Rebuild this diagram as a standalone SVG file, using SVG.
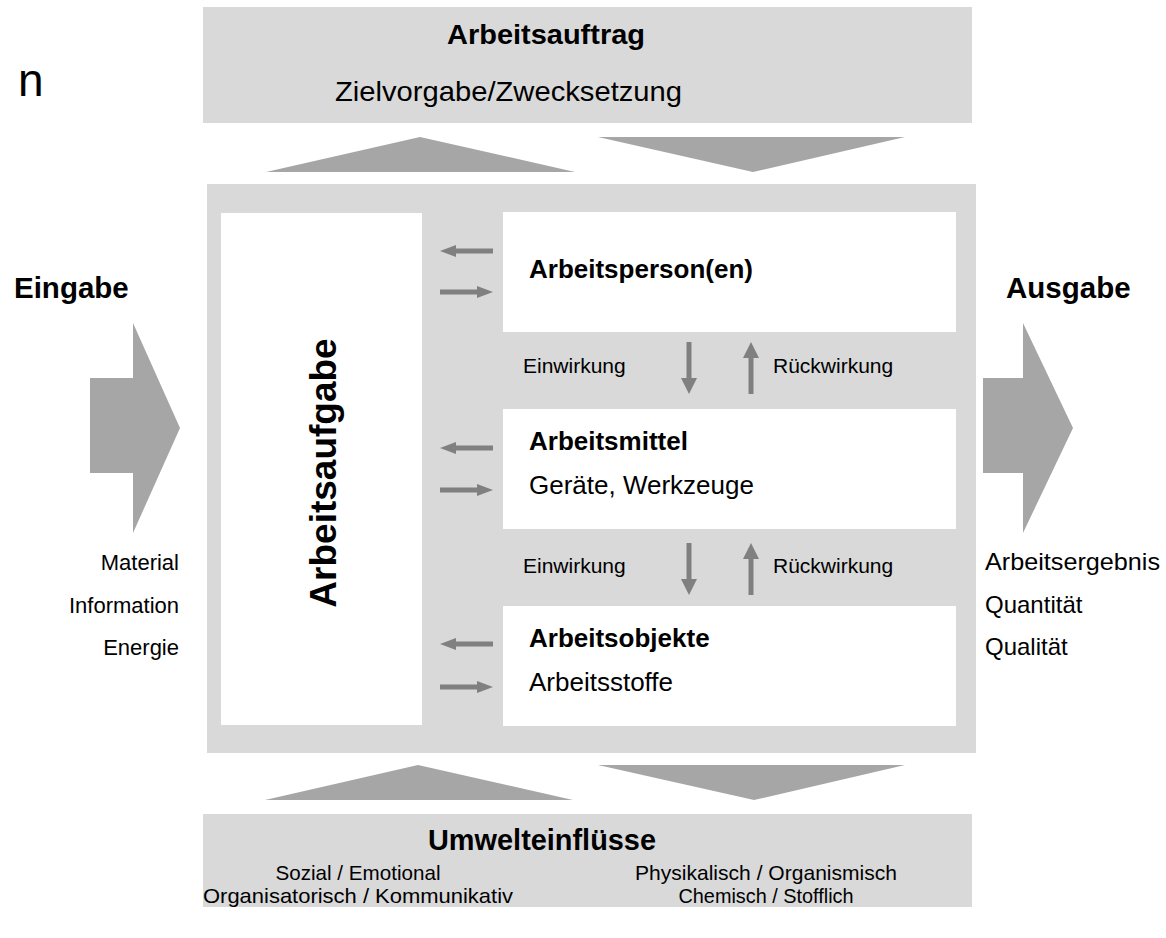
<svg xmlns="http://www.w3.org/2000/svg" width="1166" height="938" viewBox="0 0 1166 938">
  <style>
    .bg { fill: #d9d9d9; }
    .wh { fill: #ffffff; }
    .big { fill: #a6a6a6; }
    .t { font-family: "Liberation Sans", Arial, sans-serif; fill: #000000; }
    .b { font-weight: bold; }
    .sm { stroke: #808080; stroke-width: 5; fill: none; }
    .hd { fill: #808080; }
  </style>
  <defs>
    <g id="arrL">
      <line class="sm" x1="453" y1="0" x2="493" y2="0"/>
      <polygon class="hd" points="440,0 456,-6 456,6"/>
    </g>
    <g id="arrR">
      <line class="sm" x1="440" y1="0" x2="480" y2="0"/>
      <polygon class="hd" points="493,0 477,-6 477,6"/>
    </g>
    <g id="arrD">
      <line class="sm" x1="0" y1="0" x2="0" y2="38"/>
      <polygon class="hd" points="0,52 -8,36 8,36"/>
    </g>
    <g id="arrU">
      <line class="sm" x1="0" y1="14" x2="0" y2="52"/>
      <polygon class="hd" points="0,0 -8,16 8,16"/>
    </g>
  </defs>

  <rect width="1166" height="938" fill="#ffffff"/>

  <text class="t" x="18" y="96" font-size="46">n</text>

  <g id="arbeitsauftrag">
    <rect class="bg" x="203" y="7" width="769" height="116"/>
    <text class="t b" x="447" y="44" font-size="28" textLength="198" lengthAdjust="spacingAndGlyphs">Arbeitsauftrag</text>
    <text class="t" x="335" y="101" font-size="28" textLength="347" lengthAdjust="spacingAndGlyphs">Zielvorgabe/Zwecksetzung</text>
  </g>

  <g id="arbeitssystem">
    <rect class="bg" x="207" y="184" width="769" height="569"/>
  </g>

  <g id="arbeitsaufgabe">
    <rect class="wh" x="221" y="213" width="201" height="512"/>
    <text class="t b" transform="translate(336,473) rotate(-90)" text-anchor="middle" font-size="37">Arbeitsaufgabe</text>
  </g>

  <g id="arbeitsperson">
    <rect class="wh" x="503" y="212" width="453" height="120"/>
    <text class="t b" x="529" y="278" font-size="26">Arbeitsperson(en)</text>
  </g>

  <g id="arbeitsmittel">
    <rect class="wh" x="503" y="409" width="453" height="120"/>
    <text class="t b" x="529" y="450" font-size="26">Arbeitsmittel</text>
    <text class="t" x="529" y="494" font-size="26">Geräte, Werkzeuge</text>
  </g>

  <g id="arbeitsobjekte">
    <rect class="wh" x="503" y="606" width="453" height="120"/>
    <text class="t b" x="529" y="647" font-size="26">Arbeitsobjekte</text>
    <text class="t" x="529" y="691" font-size="26">Arbeitsstoffe</text>
  </g>

  <g id="eingabe">
    <text class="t b" x="14" y="298" font-size="29.5">Eingabe</text>
    <polygon class="big" points="90,378 133,378 133,323 180,428 133,533 133,473 90,473"/>
    <text class="t" x="179" y="570" font-size="22" text-anchor="end">Material</text>
    <text class="t" x="179" y="613" font-size="22" text-anchor="end">Information</text>
    <text class="t" x="179" y="655" font-size="22" text-anchor="end">Energie</text>
  </g>

  <g id="ausgabe">
    <text class="t b" x="1006" y="298" font-size="29.5">Ausgabe</text>
    <polygon class="big" points="983,378 1023,378 1023,323 1073,428 1023,533 1023,473 983,473"/>
    <text class="t" x="985" y="570" font-size="24" textLength="175" lengthAdjust="spacingAndGlyphs">Arbeitsergebnis</text>
    <text class="t" x="985" y="613" font-size="24">Quantität</text>
    <text class="t" x="985" y="655" font-size="24">Qualität</text>
  </g>

  <g id="umwelteinfluesse">
    <rect class="bg" x="203" y="814" width="769" height="93"/>
    <text class="t b" x="542" y="850" font-size="29" text-anchor="middle" textLength="228" lengthAdjust="spacingAndGlyphs">Umwelteinflüsse</text>
    <text class="t" x="358" y="880" font-size="21" text-anchor="middle" textLength="165" lengthAdjust="spacingAndGlyphs">Sozial / Emotional</text>
    <text class="t" x="358" y="903" font-size="21" text-anchor="middle" textLength="310" lengthAdjust="spacingAndGlyphs">Organisatorisch / Kommunikativ</text>
    <text class="t" x="766" y="880" font-size="21" text-anchor="middle" textLength="262" lengthAdjust="spacingAndGlyphs">Physikalisch / Organismisch</text>
    <text class="t" x="766" y="903" font-size="21" text-anchor="middle" textLength="175" lengthAdjust="spacingAndGlyphs">Chemisch / Stofflich</text>
  </g>

  <g id="connectors">
    <polygon class="big" points="266,172 575,172 420,137"/>
    <polygon class="big" points="598,137 905,137 753,172"/>
    <polygon class="big" points="265,800 573,800 418,765"/>
    <polygon class="big" points="598,765 905,765 754,800"/>

    <use href="#arrL" y="251"/>
    <use href="#arrR" y="292"/>
    <use href="#arrL" y="448"/>
    <use href="#arrR" y="490"/>
    <use href="#arrL" y="644"/>
    <use href="#arrR" y="687"/>

    <use href="#arrD" x="689" y="342"/>
    <use href="#arrU" x="751" y="342"/>
    <use href="#arrD" x="689" y="543"/>
    <use href="#arrU" x="751" y="543"/>

    <text class="t" x="523" y="373" font-size="21">Einwirkung</text>
    <text class="t" x="773" y="373" font-size="21">Rückwirkung</text>
    <text class="t" x="523" y="573" font-size="21">Einwirkung</text>
    <text class="t" x="773" y="573" font-size="21">Rückwirkung</text>
  </g>
</svg>
